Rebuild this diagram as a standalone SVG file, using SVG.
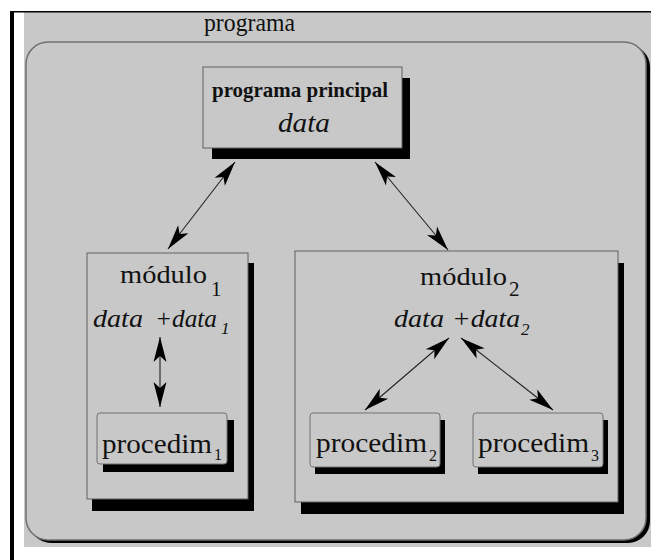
<svg xmlns="http://www.w3.org/2000/svg" width="651" height="560" viewBox="0 0 651 560">
<style>
.bg{fill:#c8c8c8}
.box{fill:#c8c8c8;stroke:#606060;stroke-width:1}
.pbox{fill:#c8c8c8;stroke:#707070;stroke-width:1}
.sh{fill:#000}
.t{font-family:"Liberation Serif","Times New Roman",serif;fill:#111}
.it{font-style:italic}
.con{stroke:#222;stroke-width:1.1;fill:none;marker-start:url(#ah);marker-end:url(#ah)}
</style>
<defs>
<marker id="ah" viewBox="0 0 26 14" refX="26" refY="7" markerWidth="26" markerHeight="14" markerUnits="userSpaceOnUse" orient="auto-start-reverse">
<path d="M26,7 L1,0.5 L7,7 L1,13.5 z" fill="#000"/>
</marker>
</defs>
<rect x="0" y="0" width="651" height="560" fill="#fff"/>
<g id="frame">
<rect class="bg" x="24" y="12" width="627" height="535"/>
<rect x="10" y="11" width="641" height="1.5" fill="#000"/>
<rect x="10" y="11" width="4" height="549" fill="#000"/>
</g>
<g id="programa">
<rect class="sh" x="29" y="45" width="621" height="498" rx="22"/>
<rect class="bg" x="26" y="42" width="620" height="498" rx="22" stroke="#707070" stroke-width="1.5"/>
<text class="t" x="204" y="31" font-size="26" textLength="91" lengthAdjust="spacingAndGlyphs">programa</text>
</g>
<g id="principal">
<rect class="sh" x="212" y="78" width="198" height="81"/>
<rect class="box" x="203" y="67" width="199" height="81"/>
<text class="t" x="212" y="97" font-size="22" textLength="176" lengthAdjust="spacingAndGlyphs" font-weight="600">programa principal</text>
<text class="t it" x="278" y="132" font-size="27" textLength="52" lengthAdjust="spacingAndGlyphs">data</text>
</g>
<g id="modulo1">
<rect class="sh" x="92" y="263" width="162" height="248"/>
<rect class="box" x="87" y="253" width="161" height="246"/>
<text class="t" x="120" y="283" font-size="26" textLength="87" lengthAdjust="spacingAndGlyphs">módulo</text>
<text class="t" x="211" y="296" font-size="21">1</text>
<text class="t it" x="93" y="327" font-size="26" textLength="50" lengthAdjust="spacingAndGlyphs">data</text>
<text class="t it" x="155" y="327" font-size="26" textLength="62" lengthAdjust="spacingAndGlyphs">+data</text>
<text class="t it" x="221" y="334" font-size="17">1</text>
</g>
<g id="modulo2">
<rect class="sh" x="301" y="263" width="323" height="251"/>
<rect class="box" x="295" y="251" width="323" height="251"/>
<text class="t" x="420" y="285" font-size="26" textLength="87" lengthAdjust="spacingAndGlyphs">módulo</text>
<text class="t" x="509" y="296" font-size="21">2</text>
<text class="t it" x="394" y="327" font-size="26" textLength="50" lengthAdjust="spacingAndGlyphs">data</text>
<text class="t it" x="452" y="327" font-size="26" textLength="68" lengthAdjust="spacingAndGlyphs">+data</text>
<text class="t it" x="521" y="335" font-size="17">2</text>
</g>
<g id="procedim1">
<rect class="sh" x="103" y="420" width="131" height="52"/>
<rect class="pbox" x="97" y="413" width="130" height="51" rx="3"/>
<text class="t" x="102" y="453" font-size="28" textLength="110" lengthAdjust="spacingAndGlyphs">procedim</text>
<text class="t" x="214" y="460" font-size="16">1</text>
</g>
<g id="procedim2">
<rect class="sh" x="315" y="420" width="130" height="54"/>
<rect class="pbox" x="310" y="413" width="130" height="54" rx="3"/>
<text class="t" x="316" y="452" font-size="28" textLength="111" lengthAdjust="spacingAndGlyphs">procedim</text>
<text class="t" x="429" y="461" font-size="16">2</text>
</g>
<g id="procedim3">
<rect class="sh" x="478" y="420" width="130" height="54"/>
<rect class="pbox" x="473" y="413" width="130" height="54" rx="3"/>
<text class="t" x="478" y="452" font-size="28" textLength="111" lengthAdjust="spacingAndGlyphs">procedim</text>
<text class="t" x="591" y="461" font-size="16">3</text>
</g>
<g id="connectors">
<line class="con" x1="235" y1="162" x2="168" y2="249"/>
<line class="con" x1="375" y1="162" x2="448" y2="250"/>
<line class="con" x1="160" y1="337" x2="160" y2="407"/>
<line class="con" x1="449" y1="338" x2="365" y2="410"/>
<line class="con" x1="461" y1="338" x2="553" y2="410"/>
</g>
</svg>
